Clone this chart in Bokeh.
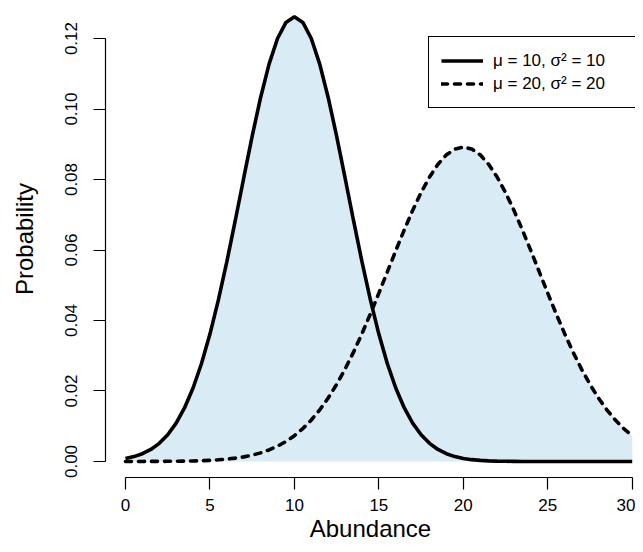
from bokeh.plotting import figure
from bokeh.models import Range1d, FixedTicker, Legend, LegendItem, ColumnDataSource, NumeralTickFormatter
from bokeh.embed import file_html
from bokeh.resources import INLINE

abundance = [0.0, 0.5, 1.0, 1.5, 2.0, 2.5, 3.0, 3.5, 4.0, 4.5, 5.0, 5.5, 6.0, 6.5, 7.0, 7.5,
             8.0, 8.5, 9.0, 9.5, 10.0, 10.5, 11.0, 11.5, 12.0, 12.5, 13.0, 13.5, 14.0, 14.5,
             15.0, 15.5, 16.0, 16.5, 17.0, 17.5, 18.0, 18.5, 19.0, 19.5, 20.0, 20.5, 21.0,
             21.5, 22.0, 22.5, 23.0, 23.5, 24.0, 24.5, 25.0, 25.5, 26.0, 26.5, 27.0, 27.5,
             28.0, 28.5, 29.0, 29.5, 30.0]

prob_mu10 = [0.00085, 0.00138, 0.00220, 0.00340, 0.00514, 0.00758, 0.01089, 0.01526,
             0.02085, 0.02780, 0.03615, 0.04584, 0.05669, 0.06838, 0.08044, 0.09230,
             0.10329, 0.11274, 0.12001, 0.12459, 0.12616, 0.12459, 0.12001, 0.11274,
             0.10329, 0.09230, 0.08044, 0.06838, 0.05669, 0.04584, 0.03615, 0.02780,
             0.02085, 0.01526, 0.01089, 0.00758, 0.00514, 0.00340, 0.00220, 0.00138,
             0.00085, 0.00051, 0.00030, 0.00017, 0.00009, 0.00005, 0.00003, 0.00001,
             0.00001, 0.0, 0.0, 0.0, 0.0, 0.0, 0.0, 0.0, 0.0, 0.0, 0.0, 0.0, 0.0]

prob_mu20 = [0.00000, 0.00001, 0.00001, 0.00002, 0.00003, 0.00004, 0.00007, 0.00010,
             0.00015, 0.00022, 0.00032, 0.00047, 0.00066, 0.00094, 0.00130, 0.00179,
             0.00244, 0.00327, 0.00433, 0.00567, 0.00732, 0.00934, 0.01177, 0.01465,
             0.01801, 0.02186, 0.02621, 0.03102, 0.03627, 0.04188, 0.04775, 0.05378,
             0.05980, 0.06567, 0.07124, 0.07631, 0.08072, 0.08433, 0.08701, 0.08865,
             0.08921, 0.08865, 0.08701, 0.08433, 0.08072, 0.07631, 0.07124, 0.06567,
             0.05980, 0.05378, 0.04775, 0.04188, 0.03627, 0.03102, 0.02621, 0.02186,
             0.01801, 0.01465, 0.01177, 0.00934, 0.00732]

x_ticks = [0, 5, 10, 15, 20, 25, 30]
y_ticks = [0.00, 0.02, 0.04, 0.06, 0.08, 0.10, 0.12]
legend_labels = ["\u03bc = 10, \u03c3\u00b2 = 10", "\u03bc = 20, \u03c3\u00b2 = 20"]

FONT = "Liberation Sans"

upper = [max(a, b) for a, b in zip(prob_mu10, prob_mu20)]
src = ColumnDataSource(dict(x=abundance, y1=prob_mu10, y2=prob_mu20, top=upper,
                            zero=[0.0] * len(abundance)))

p = figure(width=635, height=544, output_backend="svg", toolbar_location=None,
           x_range=Range1d(-1.184, 30.195), y_range=Range1d(-0.00455, 0.1308),
           min_border_left=105, min_border_right=0, min_border_top=0, min_border_bottom=40)
p.background_fill_color = "white"
p.border_fill_color = "white"
p.outline_line_color = None
p.grid.visible = False

p.varea(x="x", y1="zero", y2="top", source=src, fill_color="#D9ECF5", fill_alpha=1.0)
r1 = p.line("x", "y1", source=src, line_color="black", line_width=3.6)
r2 = p.line("x", "y2", source=src, line_color="black", line_width=3.6,
            line_dash="6 7", line_cap="round")

legend = Legend(items=[LegendItem(label=legend_labels[0], renderers=[r1]),
                       LegendItem(label=legend_labels[1], renderers=[r2])],
                location=(323, 369), padding=12, spacing=0, margin=0,
                glyph_width=42, glyph_height=23, label_height=23, label_width=130,
                label_standoff=10, label_text_font=FONT, label_text_font_size="17px",
                label_text_color="black",
                border_line_color="black", border_line_width=1.3, border_line_alpha=1.0,
                background_fill_color="white", background_fill_alpha=1.0)
p.add_layout(legend)

p.xaxis.ticker = FixedTicker(ticks=x_ticks)
p.xaxis.bounds = (0, 30)
p.yaxis.ticker = FixedTicker(ticks=y_ticks)
p.yaxis.bounds = (0, 0.12)
p.yaxis.formatter = NumeralTickFormatter(format="0.00")
p.yaxis.major_label_orientation = "vertical"

for ax in (p.xaxis[0], p.yaxis[0]):
    ax.major_tick_out = 12
    ax.major_tick_in = 0
    ax.minor_tick_out = 0
    ax.minor_tick_in = 0
    ax.axis_line_width = 1.2
    ax.major_tick_line_width = 1.2
    ax.axis_line_color = "black"
    ax.major_tick_line_color = "black"
    ax.major_label_text_font = FONT
    ax.major_label_text_font_size = "17px"
    ax.major_label_text_color = "black"
    ax.axis_label_text_font = FONT
    ax.axis_label_text_font_size = "24px"
    ax.axis_label_text_font_style = "normal"
    ax.axis_label_text_color = "black"

p.xaxis.axis_label = "Abundance"
p.xaxis.major_label_standoff = 9
p.xaxis.axis_label_standoff = 1
p.yaxis.axis_label = "Probability"
p.yaxis.major_label_standoff = 16
p.yaxis.axis_label_standoff = 25

open("out.html", "w").write(file_html(p, INLINE))
